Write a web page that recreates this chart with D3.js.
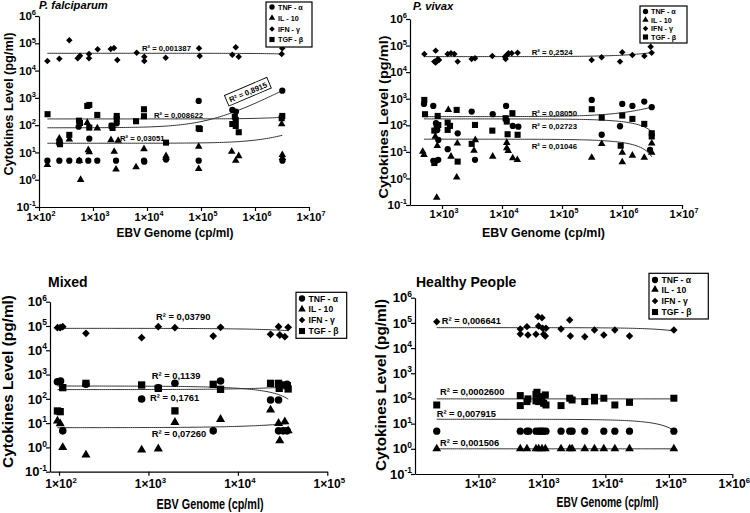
<!DOCTYPE html>
<html><head><meta charset="utf-8">
<script src="https://cdn.jsdelivr.net/npm/d3@7"></script>
<style>
body{margin:0;background:#fff}
svg{display:block}
text{font-family:Arial,"Liberation Sans",sans-serif;font-weight:bold;fill:#000}
</style>
</head><body>
<svg id="c" width="750" height="513"></svg>
<script>
// ---------- shared ----------
const cytokines = ["TNF - α", "IL - 10", "IFN - γ", "TGF - β"];
const yTicks = [1e-1, 1e0, 1e1, 1e2, 1e3, 1e4, 1e5, 1e6];

// ---------- P. falciparum ----------
const pfXTicks = [1e2, 1e3, 1e4, 1e5, 1e6, 1e7];
const pfTNF = [[143,5],[238,5],[364,5],[543,88],[557,5],[818,5],[853,32],[1200,5],[2220,96],[2670,5],[2750,117],[8790,5],[8900,4.6],[22500,5.5],[90600,5],[90600,770],[380000,360],[444000,313],[3200000,1840],[3220000,5]];
const pfIL10 = [[143,3.5],[238,33],[238,24],[364,30],[557,4.9],[590,1.0],[783,123],[818,12.3],[853,10.4],[1200,77],[2150,28.7],[2470,10.7],[2670,2.4],[2930,27],[6270,2.9],[8790,13.4],[22500,7.4],[22500,6.3],[90600,16.3],[90600,2.5],[370000,10.7],[440000,5],[500000,7.4],[3120000,110],[3200000,8.1],[3220000,6.3]];
const pfIFN = [[143,22500],[238,27300],[364,129000],[521,28200],[574,35100],[843,40500],[843,28200],[1220,60300],[2130,61800],[2450,67300],[2820,24400],[6440,45300],[8910,32300],[8910,22500],[22200,29700],[91800,65600],[94600,34300],[380000,38200],[440000,71300],[499000,32300],[3120000,40500],[3200000,65600]];
const pfTGF = [[144,252],[238,23],[245,20],[364,44],[550,146],[574,120],[783,505],[853,550],[853,81],[1200,237],[2220,94],[2300,79],[2750,169],[2750,217],[6270,139],[8790,382],[8790,212],[22500,22.9],[90600,77],[95000,72],[380000,110],[423000,205],[440000,155],[440000,93],[500000,55],[3200000,217],[3120000,179]];
// fits y = a + b*x, over [x0, x1]; order TNF, IL-10, IFN, TGF
const pfFits = [[80,5.5e-4,143,3.2e6],[21.7,6.5e-6,143,3.2e6],[43000,-7.8e-4,143,3.2e6],[169,8e-6,143,3.2e6]];
const pfR2 = ["R² = 0,8915","R² = 0,03051","R² = 0,001387","R² = 0,008622"];

// ---------- P. vivax ----------
const pvXTicks = [1e3, 1e4, 1e5, 1e6, 1e7];
const pvTNF = [[501,638],[716,536],[794,120],[835,67],[867,28],[716,4.6],[794,4.6],[866,5],[1245,12.6],[1828,50],[3126,327],[3548,5],[7000,261],[11700,536],[11700,160],[15100,95],[18700,89],[313000,900],[459000,44],[1010000,638],[926000,92],[1490000,536],[2350000,778],[3130000,479],[2930000,11.9]];
const pvIL10 = [[477,10.3],[501,7.7],[773,38],[835,16.8],[816,0.19],[1274,379],[1413,6.7],[1800,21],[1758,1.1],[3415,11.2],[3590,28],[7000,6.7],[12000,22],[12000,13.8],[12700,10.9],[15100,5.8],[18000,5],[313000,6.1],[459000,20],[1010000,4.1],[1010000,9.4],[1490000,7.3],[2350000,6.1],[3130000,21],[3130000,9.4]];
const pvIFN = [[508,48300],[784,64500],[745,24900],[784,22800],[847,30500],[891,28800],[1243,48300],[1413,51200],[1606,48300],[1824,24900],[3120,31300],[3548,33200],[6900,40600],[11200,38300],[11500,31300],[12100,44400],[12800,51200],[14500,51200],[18200,54200],[312000,28800],[458000,36200],[926000,24900],[1010000,55800],[1490000,44400],[2360000,40600],[3000000,91200],[3120000,54200]];
const pvTGF = [[507,900],[521,261],[745,63],[816,89],[847,225],[868,103],[745,3.8],[1243,126],[1243,67],[1360,95],[1756,379],[1824,4.3],[3126,20],[3548,103],[6900,63],[11500,185],[12000,138],[12400,46],[14900,285],[18200,44],[313000,403],[459000,195],[951000,17],[1010000,232],[1490000,174],[2350000,113],[3130000,50],[3130000,38]];
const pvFits = [[212,8.6e-5,500,3.13e6],[30,-7.5e-6,500,3.13e6],[38400,5.1e-3,500,3.13e6],[174,-3.7e-5,500,3.13e6]];
const pvR2 = ["R² = 0,08050","R² = 0,01046","R² = 0,2524","R² = 0,02723"];

// ---------- Mixed ----------
const mxXTicks = [1e2, 1e3, 1e4, 1e5];
const mxTNF = [[96,510],[104,543],[110,4.8],[200,396],[839,99],[1288,289],[1977,435],[5300,4.8],[6400,543],[23200,90],[28500,90],[28500,4.8],[32100,4.8],[35500,4.8],[35500,396]];
const mxIL10 = [[96,12.3],[103,9.5],[110,1.0],[200,0.49],[839,0.79],[1288,0.87],[1977,10.8],[6400,14.4],[23200,35],[28500,9.8],[29400,1.9],[33500,11.5],[36500,4.9]];
const mxIFN = [[96,85000],[103,85000],[110,93500],[200,49800],[839,33000],[1288,93500],[1977,85000],[5300,38600],[6400,87800],[23200,45300],[28500,93500],[29400,42500],[33500,36300],[36500,87800]];
const mxTGF = [[96,31.7],[103,29.7],[110,289],[200,435],[839,372],[1288,271],[1977,32],[5300,396],[6400,247],[23200,435],[28500,435],[29000,271],[31600,372],[35500,349],[36500,255]];
const mxFits = [[338,-0.0066,96,36500],[6.5,8.5e-5,96,36500],[80000,-0.44,96,36500],[240,0.0019,96,36500]];
const mxR2 = ["R² = 0,1761","R² = 0,07260","R² = 0,03790","R² = 0,1139"];

// ---------- Healthy People ----------
const hpXTicks = [1e2, 1e3, 1e4, 1e5, 1e6];
const hpTNF = [[22,5],[456,5],[581,5],[620,5],[806,5],[888,5],[944,5],[1002,5],[1065,5],[1159,5],[2000,5],[2740,5],[2990,5],[4730,5],[9450,5],[14100,5],[24000,5],[120000,5]];
const hpIL10 = [[22,1],[456,1],[581,1],[806,1],[888,1],[1002,1],[1132,1],[2000,1],[2740,1],[2990,1],[4730,1],[6730,1],[9450,1],[14100,1],[24000,1],[120000,1]];
const hpIFN = [[22,110000],[456,57300],[456,36300],[581,71000],[602,33100],[806,35200],[866,177000],[888,75400],[1002,161000],[1028,61000],[1065,35200],[1132,30200],[1159,61000],[2000,57300],[2740,130000],[2810,30200],[4730,28400],[6730,52400],[9450,33100],[14100,52400],[24000,30200],[120000,52400]];
const hpTGF = [[22,55],[456,130],[456,52],[581,75],[602,96],[806,146],[806,80],[836,176],[888,75],[944,118],[1002,102],[1065,64],[1132,138],[1159,55],[2000,52],[2740,102],[2990,87],[4730,75],[6730,80],[6730,111],[9450,102],[14100,55],[24000,70],[120000,102]];
const hpFits = [[14.9,-8e-5,22,120000],[1.0,0,22,120000],[64700,-0.14,22,120000],[96,0,22,120000]];
const hpR2 = ["R² = 0,007915","R² = 0,001506","R² = 0,006641","R² = 0,0002600"];

// ---------- layout ----------
const panels = [
  {title:"P. falciparum", italic:true, titleX:39, titleY:8.5, titleSize:11.2,
   xDom:[1e2,1e7], xRange:[39,309], yRange:[207,16], xTicks:pfXTicks,
   series:[pfTNF,pfIL10,pfIFN,pfTGF], fits:pfFits, r2:pfR2,
   r2At:[[741000,1645],[3160,26.4],[8070,52300],[13500,184]], r2Size:7.7, boxed:0, boxAngle:-23,
   mk:1.0, yTickSize:11.5, xTickSize:11, xTickY:221,
   yTitle:{x:8,y:104,len:143,size:12.5}, xTitle:{x:175,y:237,len:117,size:12.5},
   legend:{x:266,y:2,w:46,h:45,rows:[7,18,29,39.5],symX:272,txtX:278,size:7.2,mk:0.85}},
  {title:"P. vivax", italic:true, titleX:413, titleY:9.5, titleSize:11.2,
   xDom:[Math.pow(10,2.4667),1e7], xRange:[410,682], yRange:[205,19], xTicks:pvXTicks,
   series:[pvTNF,pvIL10,pvIFN,pvTGF], fits:pvFits, r2:pvR2,
   r2At:[[31300,225],[31300,13],[31300,44400],[31300,73]], r2Size:7.8, boxed:-1, boxAngle:0,
   mk:1.0, yTickSize:11.5, xTickSize:11, xTickY:218,
   yTitle:{x:383,y:117,len:163,size:13}, xTitle:{x:543.5,y:237,len:123,size:12.5},
   legend:{x:640,y:6,w:47,h:37,rows:[11.5,20,28.5,37],symX:645.5,txtX:651,size:7.2,mk:0.85}},
  {title:"Mixed", italic:false, titleX:48, titleY:286.5, titleSize:14,
   xDom:[Math.pow(10,1.899),1e5], xRange:[50,327.3], yRange:[471.7,301.7], xTicks:mxXTicks,
   series:[mxTNF,mxIL10,mxIFN,mxTGF], fits:mxFits, r2:mxR2,
   r2At:[[1042,78],[1087,2.7],[1215,176000],[1087,628]], r2Size:9.4, boxed:-1, boxAngle:0,
   mk:1.2, yTickSize:13, xTickSize:12, xTickY:488,
   yTitle:{x:8,y:381.5,len:173,size:15}, xTitle:{x:210,y:509,len:107,size:14},
   legend:{x:296,y:292.3,w:50.7,h:46,rows:[298.5,309.2,320,331],symX:302,txtX:308.5,size:8.6,mk:1.0}},
  {title:"Healthy People", italic:false, titleX:416, titleY:286.5, titleSize:14,
   xDom:[10,1e6], xRange:[415,732.3], yRange:[474,297.7], xTicks:hpXTicks,
   series:[hpTNF,hpIL10,hpIFN,hpTGF], fits:hpFits, r2:hpR2,
   r2At:[[22,18.5],[24.8,1.3],[26.4,86400],[24.8,138]], r2Size:9.3, boxed:-1, boxAngle:0,
   mk:1.15, yTickSize:13, xTickSize:12, xTickY:488,
   yTitle:{x:381,y:385,len:172,size:15}, xTitle:{x:607.5,y:507,len:102,size:14},
   legend:{x:649,y:273.3,w:59.3,h:45.7,rows:[280,289.5,301,312],symX:655,txtX:661.5,size:8.6,mk:1.0}}
];

const svg = d3.select("#c");

function supText(sel, base, exp, size) {
  sel.append("tspan").text(base);
  sel.append("tspan").attr("font-size", size*0.65).attr("dy", -size*0.42).text(exp);
}
function symPath(k, scale) {
  // 0 circle, 1 triangle, 2 diamond, 3 square
  if (k === 0) return d3.symbol(d3.symbolCircle, 31*scale*scale)();
  if (k === 1) return d3.symbol(d3.symbolTriangle, 25*scale*scale)();
  if (k === 2) return d3.symbol(d3.symbolSquare, 21*scale*scale)();
  return d3.symbol(d3.symbolSquare, 37*scale*scale)();
}

panels.forEach(p => {
  const g = svg.append("g");
  const x = d3.scaleLog().domain(p.xDom).range(p.xRange);
  const y = d3.scaleLog().domain([1e-1, 1e6]).range(p.yRange);

  // axes
  const ya = g.append("g").attr("transform", `translate(${p.xRange[0]},0)`)
    .call(d3.axisLeft(y).tickValues(yTicks).tickFormat(() => "").tickSize(4).tickSizeOuter(0));
  const xa = g.append("g").attr("transform", `translate(0,${p.yRange[0]})`)
    .call(d3.axisBottom(x).tickValues(p.xTicks).tickFormat(() => "").tickSize(4).tickSizeOuter(0));
  [ya, xa].forEach(a => a.selectAll("path,line").attr("stroke", "#000").attr("stroke-width", 1.2));

  yTicks.forEach(t => {
    const e = Math.round(Math.log10(t));
    const tx = g.append("text").attr("x", p.xRange[0] - 3).attr("y", y(t) + p.yTickSize*0.36)
      .attr("text-anchor", "end").attr("font-size", p.yTickSize);
    supText(tx, "10", String(e), p.yTickSize);
  });
  p.xTicks.forEach(t => {
    const e = Math.round(Math.log10(t));
    const tx = g.append("text").attr("x", x(t) + 2).attr("y", p.xTickY)
      .attr("text-anchor", "middle").attr("font-size", p.xTickSize);
    supText(tx, "1×10", String(e), p.xTickSize);
  });

  // titles
  g.append("text").attr("x", p.titleX).attr("y", p.titleY).attr("font-size", p.titleSize)
    .attr("font-style", p.italic ? "italic" : "normal").text(p.title);
  g.append("text").attr("transform", `translate(${p.yTitle.x + p.yTitle.size*0.36},${p.yTitle.y}) rotate(-90)`)
    .attr("text-anchor", "middle").attr("font-size", p.yTitle.size)
    .attr("textLength", p.yTitle.len).attr("lengthAdjust", "spacingAndGlyphs")
    .text("Cytokines Level (pg/ml)");
  g.append("text").attr("x", p.xTitle.x).attr("y", p.xTitle.y).attr("text-anchor", "middle")
    .attr("font-size", p.xTitle.size).attr("textLength", p.xTitle.len).attr("lengthAdjust", "spacingAndGlyphs")
    .text("EBV Genome (cp/ml)");

  // fit curves
  const line = d3.line().x(d => x(d[0])).y(d => y(d[1]));
  p.fits.forEach(f => {
    const [a, b, x0, x1] = f;
    const pts = d3.range(0, 121).map(i => {
      const xv = Math.pow(10, Math.log10(x0) + (Math.log10(x1) - Math.log10(x0)) * i / 120);
      return [xv, Math.max(a + b * xv, 1e-3)];
    });
    g.append("path").attr("d", line(pts)).attr("fill", "none").attr("stroke", "#333").attr("stroke-width", 1);
  });

  // points (draw squares, triangles, diamonds, circles)
  [3, 1, 2, 0].forEach(k => {
    g.selectAll(null).data(p.series[k]).enter().append("path")
      .attr("d", symPath(k, p.mk))
      .attr("transform", d => `translate(${x(d[0])},${y(d[1])})` + (k === 2 ? " rotate(45)" : ""))
      .attr("fill", "#000");
  });

  // R² labels
  p.r2.forEach((txt, i) => {
    const [lx, ly] = p.r2At[i];
    if (i === p.boxed) {
      const gg = g.append("g").attr("transform", `translate(${x(lx)},${y(ly)}) rotate(${p.boxAngle})`);
      gg.append("rect").attr("x", -23).attr("y", -6).attr("width", 46).attr("height", 11.5)
        .attr("fill", "#fff").attr("stroke", "#000").attr("stroke-width", 0.9);
      gg.append("text").attr("x", 0).attr("y", 3).attr("text-anchor", "middle").attr("font-size", p.r2Size).text(txt);
    } else {
      g.append("text").attr("x", x(lx)).attr("y", y(ly)).attr("font-size", p.r2Size).text(txt);
    }
  });

  // legend
  const L = p.legend;
  g.append("rect").attr("x", L.x).attr("y", L.y).attr("width", L.w).attr("height", L.h)
    .attr("fill", "#fff").attr("stroke", "#000").attr("stroke-width", 1.2);
  cytokines.forEach((c, k) => {
    g.append("path").attr("d", symPath(k, L.mk))
      .attr("transform", `translate(${L.symX},${L.rows[k]})` + (k === 2 ? " rotate(45)" : ""))
      .attr("fill", "#000");
    g.append("text").attr("x", L.txtX).attr("y", L.rows[k] + L.size*0.36).attr("font-size", L.size).text(c);
  });
});
</script>
</body></html>
